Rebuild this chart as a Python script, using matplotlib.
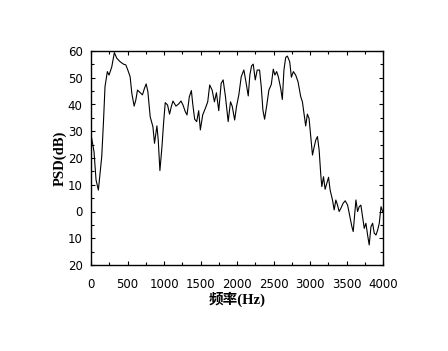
import matplotlib
matplotlib.use('Agg')
import matplotlib.pyplot as plt
from matplotlib.ticker import MultipleLocator

# frequency (Hz) and PSD (dB)
freq = [9, 41, 69, 101, 124, 147, 170, 192, 224, 247, 284, 320, 353, 399, 444, 477,
        504, 536, 559, 591, 614, 637, 674, 705, 733, 756, 779, 811, 848, 870, 903, 921,
        944, 972, 994, 1017, 1049, 1076, 1100, 1123, 1164, 1200, 1233, 1260, 1292, 1315,
        1347, 1375, 1393, 1420, 1448, 1475, 1498, 1530, 1567, 1599, 1626, 1659, 1691,
        1718, 1750, 1783, 1810, 1842, 1879, 1911, 1934, 1968, 1993, 2025, 2058, 2094,
        2126, 2154, 2176, 2199, 2222, 2250, 2277, 2309, 2332, 2355, 2378, 2405, 2437,
        2470, 2497, 2519, 2543, 2566, 2598, 2621, 2643, 2667, 2690, 2722, 2745, 2772,
        2804, 2836, 2873, 2896, 2918, 2941, 2964, 2987, 3010, 3034, 3056, 3079, 3102,
        3125, 3148, 3162, 3185, 3207, 3230, 3254, 3276, 3308, 3331, 3354, 3377, 3399,
        3423, 3454, 3482, 3515, 3546, 3574, 3592, 3605, 3629, 3652, 3674, 3697, 3720,
        3743, 3766, 3789, 3811, 3835, 3858, 3880, 3904, 3927, 3949, 3973, 3996]
psd = [27.4, 22.4, 11.8, 8, 14.4, 20.5, 33, 46.7, 52.3, 51, 54, 59.4, 57.3, 56, 55.1, 54.8,
       52.9, 50.4, 44.2, 39.4, 41.7, 45.4, 44.4, 43.6, 46.1, 47.7, 44.8, 35.4, 31.7, 25.5,
       32, 26.7, 15.3, 24.2, 33, 40.7, 39.8, 36.4, 39.2, 41.3, 39.4, 40.2, 41.3, 39.8,
       37.3, 36.1, 42.9, 45.2, 40.4, 34.5, 33.6, 37.7, 30.5, 36.1, 38.6, 41, 47.3, 45.4,
       41, 44.4, 37.7, 47.9, 49.2, 42.9, 33.6, 41, 39.4, 34.2, 39.2, 43.6, 50.4, 52.9,
       47.9, 43.2, 51, 54.4, 55.1, 49.2, 52.9, 52.9, 46.7, 37.9, 34.5, 39.2, 45.4,
       47.5, 53.2, 51, 52.3, 50.4, 46.1, 41.9, 52.9, 57.6, 58.1, 56, 50.2, 52.3,
       51, 48.5, 42.9, 41, 36.7, 32, 36.4, 34.8, 28, 21.1, 24, 26.7, 28,
       23, 13.6, 9.3, 13, 8.3, 10.5, 12.8, 8, 4.3, 0.6, 4.3, 2.4, 0,
       1.2, 3.1, 4, 2.4, -1.9, -5.7, -7.5, -3.2, 4.3, 0, 1.8, 2.4, -1.9,
       -6.3, -4.4, -8.8, -12.5, -5.7, -4.4, -8.1, -8.8, -6.9, -4.4, 1.8, 0]

xticks = [0, 500, 1000, 1500, 2000, 2500, 3000, 3500, 4000]
yticks = [60, 50, 40, 30, 20, 10, 0, -10, -20]
ytick_labels = ['60', '50', '40', '30', '20', '10', '0', '10', '20']

fig = plt.figure(figsize=(4.48, 3.51), dpi=100)
ax = fig.add_axes([91 / 448, 1 - 265 / 351, 292 / 448, 214 / 351])

ax.plot(freq, psd, color='black', linewidth=0.8)

ax.set_xlim(0, 4000)
ax.set_ylim(-20, 60)
ax.set_xticks(xticks)
ax.set_yticks(yticks)
ax.set_yticklabels(ytick_labels)
ax.xaxis.set_minor_locator(MultipleLocator(250))
ax.yaxis.set_minor_locator(MultipleLocator(5))
ax.tick_params(which='both', direction='in', top=True, right=True, labelsize=8.5)
ax.tick_params(axis='x', pad=9)
ax.tick_params(axis='y', pad=6)
ax.tick_params(which='major', length=3, width=0.8)
ax.tick_params(which='minor', length=2, width=0.8)
for s in ax.spines.values():
    s.set_linewidth(1.0)

ax.set_ylabel('PSD(dB)', family='Liberation Serif', fontweight='bold', fontsize=10.5,
              labelpad=1)
ax.set_xlabel('频率(Hz)', family=['Liberation Serif', 'Noto Sans CJK SC'],
              fontweight='bold', fontsize=10.5, labelpad=1)

fig.savefig('out.png', dpi=100)
